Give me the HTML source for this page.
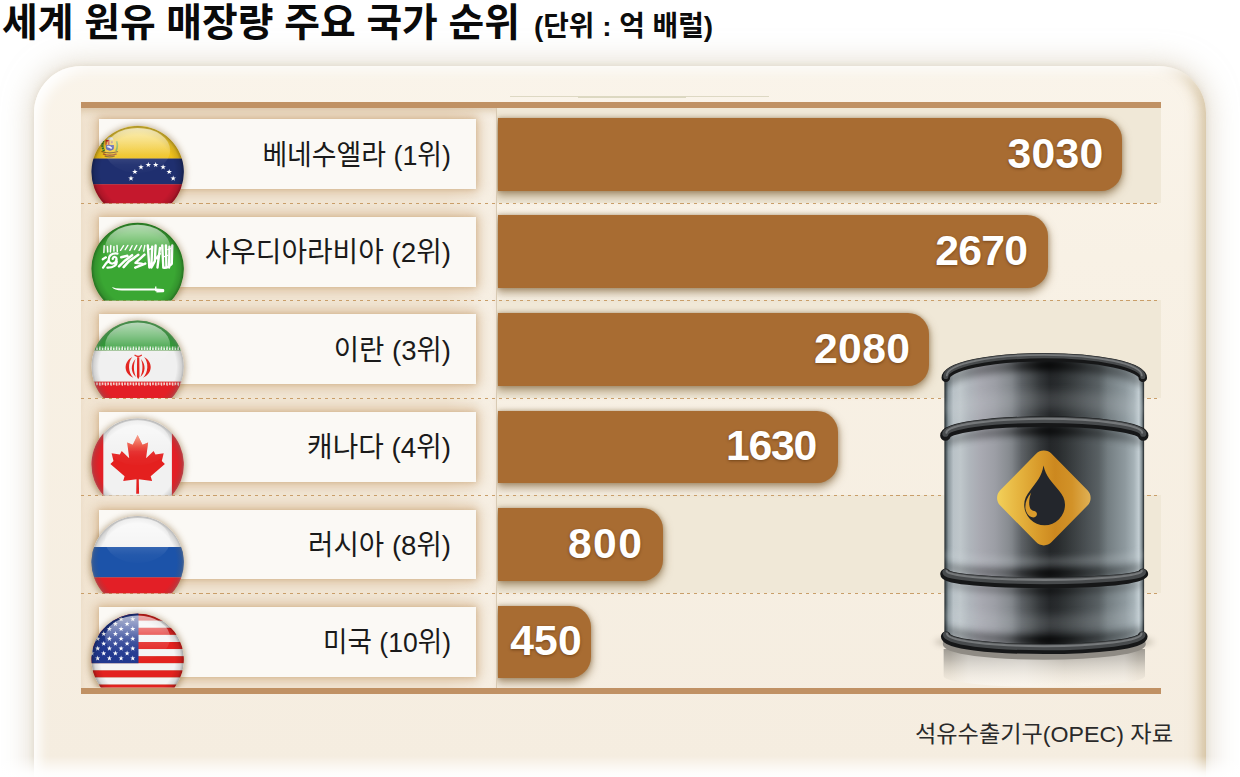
<!DOCTYPE html>
<html lang="ko">
<head>
<meta charset="utf-8">
<title>세계 원유 매장량 주요 국가 순위</title>
<style>
*{box-sizing:border-box;margin:0;padding:0}
html,body{width:1240px;height:777px;overflow:hidden;background:#fff}
body{position:relative;font-family:"Liberation Sans",sans-serif}
.abs{position:absolute}
.sr{position:absolute;color:transparent;font-size:10px;line-height:10px;white-space:nowrap;overflow:hidden;width:1px;height:1px}
#panel{left:34px;top:66px;width:1172px;height:760px;border-radius:47px 47px 0 0;background:linear-gradient(to bottom,#faf4ea 0,#f8f1e5 25%,#f5ede0 92%);
 box-shadow:0 0 30px 2px rgba(205,192,168,.62), 0 0 6px rgba(200,185,160,.35),
 inset 9px 8px 12px -3px rgba(255,255,255,.95), inset -11px 0 13px -5px rgba(190,165,118,.62)}
#fade{left:0;top:756px;width:1240px;height:21px;background:linear-gradient(to bottom,rgba(255,255,255,0),rgba(255,255,255,.5) 45%,rgba(255,255,255,.88) 80%,rgba(255,255,255,.97))}
.rowbg{left:81.3px;width:1079.7px;background:#f0e8d7}
#leftcol{left:81.3px;top:106px;width:415.9px;height:583px;box-shadow:inset 0 9px 7px -4px rgba(186,148,98,.38);background:linear-gradient(to right,#f1e4d1 0,#f3e8d8 6%,#f3e8d8 88%,#f7f0e5 97%,#f6eee2 100%);border-right:1px solid #d8cab3;overflow:hidden}
.wb{left:99.3px;width:376.3px;height:69.4px;background:#fbf9f5;box-shadow:0 0 12px 3px rgba(198,156,106,.58),0 0 4px rgba(190,150,100,.38)}
.bar{left:497.7px;height:72.7px;background:#a86c32;border-radius:0 21px 21px 0;box-shadow:0 4px 8px 1px rgba(112,78,32,.52),0 0 4px rgba(120,85,40,.4);
 color:#fff;font-weight:bold;font-size:42.7px;line-height:72.7px;text-align:right;letter-spacing:.2px;text-shadow:0 1px 3px rgba(70,35,5,.55)}
.bar span{position:absolute;right:18.6px;top:-1.5px}
.hl{left:81.3px;width:1079.7px;height:6.3px;background:#c09164}
.dash{left:81.3px;width:1079.7px;height:1.3px;background:repeating-linear-gradient(to right,#c99e69 0,#c99e69 3.1px,transparent 3.1px,transparent 6.97px)}
#barsclip{left:497.2px;top:106px;width:700px;height:583px;overflow:hidden}
</style>
</head>
<body>
<div class="abs" id="panel"></div>

<!-- alternating row backgrounds -->
<div class="abs rowbg" style="top:106px;height:97.4px"></div>
<div class="abs rowbg" style="top:300.4px;height:97.7px"></div>
<div class="abs rowbg" style="top:495.4px;height:97.8px"></div>

<div class="abs" style="left:509.8px;top:95.7px;width:259.2px;height:.9px;background:#ddd8c3"></div>
<div class="abs" style="left:577.6px;top:95.6px;width:108.4px;height:2px;background:#dcd8c1"></div>

<!-- bars -->
<div class="abs" id="barsclip">
<div class="abs bar" style="left:.4px;top:12.1px;width:624.4px"><span style="right:18.6px;letter-spacing:0.2px">3030</span></div>
<div class="abs bar" style="left:.4px;top:109.4px;width:550.4px"><span style="right:20.6px;letter-spacing:-0.7px">2670</span></div>
<div class="abs bar" style="left:.4px;top:207.1px;width:431.5px"><span style="right:18.6px;letter-spacing:0.4px">2080</span></div>
<div class="abs bar" style="left:.4px;top:304.6px;width:340.3px"><span style="right:22.0px;letter-spacing:-1.3px">1630</span></div>
<div class="abs bar" style="left:.4px;top:402px;width:165.5px"><span style="right:19.9px;letter-spacing:1.3px">800</span></div>
<div class="abs bar" style="left:.4px;top:499.7px;width:93.9px"><span style="right:9.5px;letter-spacing:0.2px">450</span></div>
</div>

<!-- left label column -->
<div class="abs" id="leftcol">
<div class="abs wb" style="left:18px;top:13.4px"></div>
<div class="abs wb" style="left:18px;top:111.2px"></div>
<div class="abs wb" style="left:18px;top:208.4px"></div>
<div class="abs wb" style="left:18px;top:306.2px"></div>
<div class="abs wb" style="left:18px;top:403.8px"></div>
<div class="abs wb" style="left:18px;top:501.2px"></div>
</div>

<!-- separators -->
<div class="abs dash" style="top:202.8px"></div>
<div class="abs dash" style="top:299.8px"></div>
<div class="abs dash" style="top:397.5px"></div>
<div class="abs dash" style="top:494.8px"></div>
<div class="abs dash" style="top:592.6px"></div>
<div class="abs hl" style="top:102.2px"></div>
<div class="abs hl" style="top:687.5px"></div>

<svg class="abs" style="left:0;top:0" width="1240" height="777" viewBox="0 0 1240 777">
<defs>
<radialGradient id="rim" cx=".5" cy=".5" r=".5"><stop offset="0" stop-color="#000" stop-opacity="0"/><stop offset=".8" stop-color="#000" stop-opacity="0"/><stop offset=".93" stop-color="#000" stop-opacity=".12"/><stop offset="1" stop-color="#000" stop-opacity=".34"/></radialGradient>
<radialGradient id="rimw" cx=".5" cy=".5" r=".5"><stop offset="0" stop-color="#555" stop-opacity="0"/><stop offset=".84" stop-color="#555" stop-opacity="0"/><stop offset=".95" stop-color="#666" stop-opacity=".22"/><stop offset="1" stop-color="#777" stop-opacity=".5"/></radialGradient>
<linearGradient id="gloss" x1="0" y1="0" x2="0" y2="1"><stop offset="0" stop-color="#fff" stop-opacity=".64"/><stop offset=".3" stop-color="#fff" stop-opacity=".4"/><stop offset=".6" stop-color="#fff" stop-opacity=".13"/><stop offset=".82" stop-color="#fff" stop-opacity=".035"/><stop offset="1" stop-color="#fff" stop-opacity=".01"/></linearGradient>
<linearGradient id="vy" x1="0" y1="0" x2="0" y2="1"><stop offset="0" stop-color="#f5d440"/><stop offset="1" stop-color="#efbf17"/></linearGradient>
<linearGradient id="lfg" gradientUnits="userSpaceOnUse" x1="0" y1="435" x2="0" y2="452"><stop offset="0" stop-color="#f68a5c" stop-opacity=".75"/><stop offset=".6" stop-color="#f2683a" stop-opacity=".4"/><stop offset="1" stop-color="#f2683a" stop-opacity="0"/></linearGradient>
<filter id="fsh" x="-30%" y="-30%" width="160%" height="160%"><feGaussianBlur stdDeviation="3.2"/></filter>
<clipPath id="fc0"><path d="M103.6 203.3A46.2 46.2 0 1 1 171.7 203.3Z"/></clipPath>
<clipPath id="fr0"><rect x="60" y="105.9" width="160" height="97.4"/></clipPath>
<clipPath id="fc1"><path d="M103.8 300.4A46.2 46.2 0 1 1 171.5 300.4Z"/></clipPath>
<clipPath id="fr1"><rect x="60" y="202.8" width="160" height="97.6"/></clipPath>
<clipPath id="fc2"><path d="M103.7 398.1A46.2 46.2 0 1 1 171.6 398.1Z"/></clipPath>
<clipPath id="fr2"><rect x="60" y="300.6" width="160" height="97.5"/></clipPath>
<clipPath id="fc3"><path d="M103.4 495.4A46.2 46.2 0 1 1 171.9 495.4Z"/></clipPath>
<clipPath id="fr3"><rect x="60" y="398.2" width="160" height="97.2"/></clipPath>
<clipPath id="fc4"><path d="M103.5 593.2A46.2 46.2 0 1 1 171.8 593.2Z"/></clipPath>
<clipPath id="fr4"><rect x="60" y="495.9" width="160" height="97.3"/></clipPath>
<clipPath id="fc5"><path d="M100.7 687.5A46.2 46.2 0 1 1 174.6 687.5Z"/></clipPath>
<clipPath id="fr5"><rect x="60" y="593.6" width="160" height="93.9"/></clipPath>
</defs>
<g clip-path="url(#fr0)"><circle cx="137.65" cy="173.1" r="47.7" fill="#8a6a3a" opacity=".55" filter="url(#fsh)"/></g>
<g clip-path="url(#fc0)">
<rect x="90.5" y="124.9" width="94.4" height="33.7" fill="url(#vy)"/>
<rect x="90.5" y="158.6" width="94.4" height="25.7" fill="#1f2f6f"/>
<rect x="90.5" y="184.3" width="94.4" height="20" fill="#c5182d"/>
<path fill="#fff" d="M131 175.5L131.7 177.5L133.8 177.5L132.1 178.8L132.7 180.7L131 179.6L129.3 180.7L129.9 178.8L128.2 177.5L130.3 177.5ZM134.9 168.9L135.6 170.9L137.7 170.9L136 172.2L136.6 174.1L134.9 173L133.2 174.1L133.8 172.2L132.1 170.9L134.2 170.9ZM141 164.2L141.7 166.2L143.8 166.2L142.1 167.5L142.7 169.4L141 168.3L139.3 169.4L139.9 167.5L138.2 166.2L140.3 166.2ZM148.3 161.9L149 163.9L151.1 163.9L149.4 165.2L150 167.1L148.3 166L146.6 167.1L147.2 165.2L145.5 163.9L147.6 163.9ZM155.7 161.9L156.4 163.9L158.5 163.9L156.8 165.2L157.4 167.1L155.7 166L154 167.1L154.6 165.2L152.9 163.9L155 163.9ZM163.1 164.2L163.8 166.2L165.9 166.2L164.2 167.5L164.8 169.4L163.1 168.3L161.4 169.4L162 167.5L160.3 166.2L162.4 166.2ZM169.2 168.9L169.9 170.9L172 170.9L170.3 172.2L170.9 174.1L169.2 173L167.5 174.1L168.1 172.2L166.4 170.9L168.5 170.9ZM173.2 175.5L173.9 177.5L176 177.5L174.3 178.8L174.9 180.7L173.2 179.6L171.5 180.7L172.1 178.8L170.4 177.5L172.5 177.5Z"/>
<g><rect x="105.600" y="139.900" width="4.100" height="5" fill="#d3261f"/><rect x="109.700" y="139.900" width="4.400" height="5" fill="#f0cf45"/><rect x="111" y="141.200" width="1.800" height="2" fill="#b37a6a"/><rect x="106.600" y="141.500" width="1.200" height="3.400" fill="#f0cf45"/><path d="M105.900 144.900h8v3.200q0 2.400-4 2.600q-4-.200-4-2.600z" fill="#3d45a0"/><path d="M107.200 146.100q2.500-.900 5 1.700l-.900 1.100q-2.300-1.500-4.100-1.700z" fill="#e9edf8"/><path d="M103.300 140.800q-2.100 5 .8 10.200" stroke="#2f7d32" stroke-width="2.300" fill="none" stroke-dasharray="1.600 .7"/><path d="M116.600 141.200q1.700 5-.6 9.800" stroke="#5a9e45" stroke-width="1.700" fill="none" opacity=".85"/><path d="M107 139.700q1-3.100 3.200-2.600q2.200-.900 3.300 2.600z" fill="#dfe6ea"/><path d="M101.500 151.500q8.300 2.600 16.500 0" stroke="#7b5a22" stroke-width="1.300" fill="none"/><path d="M103 153.800q6.800 2.800 13.600 0" stroke="#a8552c" stroke-width="1.400" fill="none"/><path d="M104.600 156q5 1.700 10.200 0" stroke="#8a6a20" stroke-width="1.100" fill="none"/></g>
<circle cx="137.65" cy="172.1" r="46.2" fill="url(#rim)"/>
<ellipse cx="137.65" cy="150.4" rx="32.500" ry="22.500" fill="url(#gloss)"/>
</g>
<g clip-path="url(#fr1)"><circle cx="137.65" cy="270" r="47.7" fill="#8a6a3a" opacity=".55" filter="url(#fsh)"/></g>
<g clip-path="url(#fc1)">
<rect x="90.5" y="221.8" width="94.4" height="79.6" fill="#3aa733"/>
<g transform="translate(98 238) scale(.07722)" fill="none" stroke="#fff" stroke-linecap="round" stroke-linejoin="round"><path stroke-width="31" d="M645 98L665 382M702 112L690 382M746 98L736 300L692 382M802 130L770 382M832 98L846 382M880 98L886 382M926 112L920 382M962 98L955 335M846 382Q900 395 955 335M800 205L762 262"/><path stroke-width="18" d="M332 100L292 160M387 96L352 150M442 100L412 160M502 96L472 150M562 100L532 160M606 96L592 170M660 150L700 130M905 150L940 135M860 240L900 225"/><path stroke-width="32" d="M602 216L486 322L566 332M522 216L402 300L332 378M442 222L352 290L272 368M612 332L482 384M300 250L380 230"/><path stroke-width="19" d="M80 100L76 188M122 110L126 180M166 96L161 180M206 110L206 170M246 96L250 175"/><path stroke-width="29" d="M252 202C182 190 130 230 140 290C150 350 230 340 240 282C245 240 200 232 190 270M140 290C100 330 82 358 66 384M102 250L62 276M242 300C250 350 200 386 122 384"/></g><path d="M111.900 287.100q3.500 1.600 10 1.500h33.200v-2.200h1.300v2.200l7 .5q.900.200.900 1.600t-.900 1.600l-7 .2v-1.200h-1.300v-.700h-33.200q-8-.300-10-3.500z" fill="#fff"/>
<circle cx="137.65" cy="269" r="46.2" fill="url(#rim)"/>
<ellipse cx="137.65" cy="247.3" rx="32.500" ry="22.500" fill="url(#gloss)"/>
</g>
<g clip-path="url(#fr2)"><circle cx="137.65" cy="367.8" r="47.7" fill="#8a6a3a" opacity=".55" filter="url(#fsh)"/></g>
<g clip-path="url(#fc2)">
<rect x="90.5" y="319.6" width="94.4" height="31" fill="#2f9b35"/>
<rect x="90.5" y="350.6" width="94.4" height="31.1" fill="#f0f0f0"/>
<rect x="90.5" y="381.7" width="94.4" height="17.4" fill="#e31f26"/>
<path d="M90.5 348.3H184.9" stroke="#e9f3e6" stroke-width="3.400" stroke-dasharray="1.700 1.100" opacity=".95"/>
<path d="M90.5 347H184.9" stroke="#2f9b35" stroke-width="1" stroke-dasharray="3.300 2.300" opacity=".9"/>
<path d="M90.5 384.100H184.9" stroke="#f4e6e0" stroke-width="3.400" stroke-dasharray="1.700 1.100" opacity=".9"/>
<path d="M90.5 385.400H184.9" stroke="#e31f26" stroke-width="1" stroke-dasharray="3.300 2.300" opacity=".9"/>
<path fill="#e3241f" d="M132.3 357.1C123.3 362 123.3 373.6 133.3 377.7C127.9 372.6 127.7 362.4 132.3 357.1ZM135.5 358.9C130.3 364.4 130.7 372.6 136.1 376.9C133.4 371.6 133.2 364.4 135.5 358.9ZM144.1 357.1C153.1 362 153.1 373.6 143.1 377.7C148.5 372.6 148.7 362.4 144.1 357.1ZM140.9 358.9C146.1 364.4 145.7 372.6 140.3 376.9C143 371.6 143.2 364.4 140.9 358.9ZM137.1 357.2L139.3 357.2L139.5 376.8L138.2 379.3L136.9 376.8Z"/><path d="M135 355.300q3.200 2.300 6.400 0" stroke="#e3241f" stroke-width="1.400" fill="none" stroke-linecap="round"/>
<circle cx="137.65" cy="366.8" r="46.2" fill="url(#rimw)"/>
<ellipse cx="137.65" cy="345.1" rx="32.500" ry="22.500" fill="url(#gloss)"/>
</g>
<g clip-path="url(#fr3)"><circle cx="137.65" cy="465.4" r="47.7" fill="#8a6a3a" opacity=".55" filter="url(#fsh)"/></g>
<g clip-path="url(#fc3)">
<rect x="90.5" y="417.2" width="94.4" height="79.2" fill="#f1f1f1"/>
<rect x="90.5" y="417.2" width="12.8" height="79.2" fill="#e31f26"/>
<rect x="171.9" y="417.2" width="13" height="79.2" fill="#e31f26"/>
<path fill="#e4201f" d="M137.6 435.1L142.5 444.8L148.1 442.6L146.1 458.3L153.6 451.1L155.5 454.4L163.7 453.2L161.8 460.9L164.9 464.1L150.7 476.2L152.1 481L138.8 479.2L139.1 493.7L136.2 493.7L136.5 479.2L123.2 481L124.6 476.2L110.4 464.1L113.5 460.9L111.6 453.2L119.8 454.4L121.7 451.1L129.2 458.3L127.2 442.6L132.8 444.8L137.6 435.1Z"/><path fill="url(#lfg)" d="M137.6 435.1L142.5 444.8L148.1 442.6L147 451.1L128.3 451.1L127.2 442.6L132.8 444.8Z"/>
<circle cx="137.65" cy="464.4" r="46.2" fill="url(#rimw)"/>
<ellipse cx="137.65" cy="442.7" rx="32.500" ry="22.500" fill="url(#gloss)"/>
</g>
<g clip-path="url(#fr4)"><circle cx="137.65" cy="563.1" r="47.7" fill="#8a6a3a" opacity=".55" filter="url(#fsh)"/></g>
<g clip-path="url(#fc4)">
<rect x="90.5" y="514.9" width="94.4" height="32.1" fill="#f3f3f3"/>
<rect x="90.5" y="547" width="94.4" height="30.4" fill="#1c53a9"/>
<rect x="90.5" y="577.4" width="94.4" height="16.8" fill="#e31f26"/>
<circle cx="137.65" cy="562.1" r="46.2" fill="url(#rimw)"/>
<ellipse cx="137.65" cy="540.4" rx="32.500" ry="22.500" fill="url(#gloss)"/>
</g>
<g clip-path="url(#fr5)"><circle cx="137.65" cy="660.8" r="47.7" fill="#8a6a3a" opacity=".55" filter="url(#fsh)"/></g>
<g clip-path="url(#fc5)">
<rect x="90.5" y="613.6" width="94.4" height="7.1" fill="#e3221f"/>
<rect x="90.5" y="620.7" width="94.4" height="7.1" fill="#f4f4f4"/>
<rect x="90.5" y="627.8" width="94.4" height="7.1" fill="#e3221f"/>
<rect x="90.5" y="634.9" width="94.4" height="7.1" fill="#f4f4f4"/>
<rect x="90.5" y="642" width="94.4" height="7.1" fill="#e3221f"/>
<rect x="90.5" y="649.1" width="94.4" height="7.1" fill="#f4f4f4"/>
<rect x="90.5" y="656.2" width="94.4" height="7.1" fill="#e3221f"/>
<rect x="90.5" y="663.3" width="94.4" height="7.1" fill="#f4f4f4"/>
<rect x="90.5" y="670.4" width="94.4" height="7.1" fill="#e3221f"/>
<rect x="90.5" y="677.5" width="94.4" height="7.1" fill="#f4f4f4"/>
<rect x="90.5" y="684.6" width="94.4" height="7.1" fill="#e3221f"/>
<rect x="90.5" y="691.7" width="94.4" height="7.1" fill="#f4f4f4"/>
<rect x="90.5" y="698.8" width="94.4" height="7.1" fill="#e3221f"/>
<rect x="90.5" y="612.6" width="48" height="50.6" fill="#21388f"/>
<path fill="#fff" d="M86 616.4L86.6 618.2L88.6 618.3L87 619.4L87.6 621.3L86 620.2L84.4 621.3L85 619.4L83.4 618.3L85.4 618.2ZM97.7 616.4L98.3 618.2L100.3 618.3L98.7 619.4L99.3 621.3L97.7 620.2L96.1 621.3L96.7 619.4L95.1 618.3L97.1 618.2ZM109.4 616.4L110 618.2L112 618.3L110.4 619.4L111 621.3L109.4 620.2L107.8 621.3L108.4 619.4L106.8 618.3L108.8 618.2ZM121.1 616.4L121.7 618.2L123.7 618.3L122.1 619.4L122.7 621.3L121.1 620.2L119.5 621.3L120.1 619.4L118.5 618.3L120.5 618.2ZM132.8 616.4L133.4 618.2L135.4 618.3L133.8 619.4L134.4 621.3L132.8 620.2L131.2 621.3L131.8 619.4L130.2 618.3L132.2 618.2ZM92 621.2L92.6 623.1L94.6 623.2L93 624.3L93.6 626.2L92 625.1L90.4 626.2L91 624.3L89.4 623.2L91.4 623.1ZM103.7 621.2L104.3 623.1L106.3 623.2L104.7 624.3L105.3 626.2L103.7 625.1L102.1 626.2L102.7 624.3L101.1 623.2L103.1 623.1ZM115.4 621.2L116 623.1L118 623.2L116.4 624.3L117 626.2L115.4 625.1L113.8 626.2L114.4 624.3L112.8 623.2L114.8 623.1ZM127.1 621.2L127.7 623.1L129.7 623.2L128.1 624.3L128.7 626.2L127.1 625.1L125.5 626.2L126.1 624.3L124.5 623.2L126.5 623.1ZM86 626.1L86.6 628L88.6 628.1L87 629.2L87.6 631.1L86 630L84.4 631.1L85 629.2L83.4 628.1L85.4 628ZM97.7 626.1L98.3 628L100.3 628.1L98.7 629.2L99.3 631.1L97.7 630L96.1 631.1L96.7 629.2L95.1 628.1L97.1 628ZM109.4 626.1L110 628L112 628.1L110.4 629.2L111 631.1L109.4 630L107.8 631.1L108.4 629.2L106.8 628.1L108.8 628ZM121.1 626.1L121.7 628L123.7 628.1L122.1 629.2L122.7 631.1L121.1 630L119.5 631.1L120.1 629.2L118.5 628.1L120.5 628ZM132.8 626.1L133.4 628L135.4 628.1L133.8 629.2L134.4 631.1L132.8 630L131.2 631.1L131.8 629.2L130.2 628.1L132.2 628ZM92 631.1L92.6 632.9L94.6 633L93 634.1L93.6 636L92 634.9L90.4 636L91 634.1L89.4 633L91.4 632.9ZM103.7 631.1L104.3 632.9L106.3 633L104.7 634.1L105.3 636L103.7 634.9L102.1 636L102.7 634.1L101.1 633L103.1 632.9ZM115.4 631.1L116 632.9L118 633L116.4 634.1L117 636L115.4 634.9L113.8 636L114.4 634.1L112.8 633L114.8 632.9ZM127.1 631.1L127.7 632.9L129.7 633L128.1 634.1L128.7 636L127.1 634.9L125.5 636L126.1 634.1L124.5 633L126.5 632.9ZM86 636L86.6 637.8L88.6 637.9L87 639L87.6 640.9L86 639.8L84.4 640.9L85 639L83.4 637.9L85.4 637.8ZM97.7 636L98.3 637.8L100.3 637.9L98.7 639L99.3 640.9L97.7 639.8L96.1 640.9L96.7 639L95.1 637.9L97.1 637.8ZM109.4 636L110 637.8L112 637.9L110.4 639L111 640.9L109.4 639.8L107.8 640.9L108.4 639L106.8 637.9L108.8 637.8ZM121.1 636L121.7 637.8L123.7 637.9L122.1 639L122.7 640.9L121.1 639.8L119.5 640.9L120.1 639L118.5 637.9L120.5 637.8ZM132.8 636L133.4 637.8L135.4 637.9L133.8 639L134.4 640.9L132.8 639.8L131.2 640.9L131.8 639L130.2 637.9L132.2 637.8ZM92 640.9L92.6 642.7L94.6 642.8L93 643.9L93.6 645.8L92 644.7L90.4 645.8L91 643.9L89.4 642.8L91.4 642.7ZM103.7 640.9L104.3 642.7L106.3 642.8L104.7 643.9L105.3 645.8L103.7 644.7L102.1 645.8L102.7 643.9L101.1 642.8L103.1 642.7ZM115.4 640.9L116 642.7L118 642.8L116.4 643.9L117 645.8L115.4 644.7L113.8 645.8L114.4 643.9L112.8 642.8L114.8 642.7ZM127.1 640.9L127.7 642.7L129.7 642.8L128.1 643.9L128.7 645.8L127.1 644.7L125.5 645.8L126.1 643.9L124.5 642.8L126.5 642.7ZM86 645.8L86.6 647.6L88.6 647.7L87 648.8L87.6 650.7L86 649.6L84.4 650.7L85 648.8L83.4 647.7L85.4 647.6ZM97.7 645.8L98.3 647.6L100.3 647.7L98.7 648.8L99.3 650.7L97.7 649.6L96.1 650.7L96.7 648.8L95.1 647.7L97.1 647.6ZM109.4 645.8L110 647.6L112 647.7L110.4 648.8L111 650.7L109.4 649.6L107.8 650.7L108.4 648.8L106.8 647.7L108.8 647.6ZM121.1 645.8L121.7 647.6L123.7 647.7L122.1 648.8L122.7 650.7L121.1 649.6L119.5 650.7L120.1 648.8L118.5 647.7L120.5 647.6ZM132.8 645.8L133.4 647.6L135.4 647.7L133.8 648.8L134.4 650.7L132.8 649.6L131.2 650.7L131.8 648.8L130.2 647.7L132.2 647.6ZM92 650.6L92.6 652.5L94.6 652.6L93 653.7L93.6 655.6L92 654.5L90.4 655.6L91 653.7L89.4 652.6L91.4 652.5ZM103.7 650.6L104.3 652.5L106.3 652.6L104.7 653.7L105.3 655.6L103.7 654.5L102.1 655.6L102.7 653.7L101.1 652.6L103.1 652.5ZM115.4 650.6L116 652.5L118 652.6L116.4 653.7L117 655.6L115.4 654.5L113.8 655.6L114.4 653.7L112.8 652.6L114.8 652.5ZM127.1 650.6L127.7 652.5L129.7 652.6L128.1 653.7L128.7 655.6L127.1 654.5L125.5 655.6L126.1 653.7L124.5 652.6L126.5 652.5ZM86 655.6L86.6 657.4L88.6 657.5L87 658.6L87.6 660.5L86 659.4L84.4 660.5L85 658.6L83.4 657.5L85.4 657.4ZM97.7 655.6L98.3 657.4L100.3 657.5L98.7 658.6L99.3 660.5L97.7 659.4L96.1 660.5L96.7 658.6L95.1 657.5L97.1 657.4ZM109.4 655.6L110 657.4L112 657.5L110.4 658.6L111 660.5L109.4 659.4L107.8 660.5L108.4 658.6L106.8 657.5L108.8 657.4ZM121.1 655.6L121.7 657.4L123.7 657.5L122.1 658.6L122.7 660.5L121.1 659.4L119.5 660.5L120.1 658.6L118.5 657.5L120.5 657.4ZM132.8 655.6L133.4 657.4L135.4 657.5L133.8 658.6L134.4 660.5L132.8 659.4L131.2 660.5L131.8 658.6L130.2 657.5L132.2 657.4Z"/>
<circle cx="137.65" cy="659.8" r="46.2" fill="url(#rim)"/>
<ellipse cx="137.65" cy="638.1" rx="32.500" ry="22.500" fill="url(#gloss)"/>
</g>
</svg>
<svg class="abs" style="left:0;top:0" width="1240" height="777" viewBox="0 0 1240 777">
<defs>
<linearGradient id="bodyg" gradientUnits="userSpaceOnUse" x1="944.4" y1="0" x2="1144.1" y2="0"><stop offset="0" stop-color="#1e2427"/><stop offset="0.008" stop-color="#4d595e"/><stop offset="0.02" stop-color="#8a969c"/><stop offset="0.045" stop-color="#b9c2c7"/><stop offset="0.08" stop-color="#bfc7cb"/><stop offset="0.125" stop-color="#b0b6bc"/><stop offset="0.178" stop-color="#a9aab2"/><stop offset="0.253" stop-color="#9c9ea5"/><stop offset="0.318" stop-color="#898d92"/><stop offset="0.379" stop-color="#70757a"/><stop offset="0.429" stop-color="#575c5f"/><stop offset="0.479" stop-color="#3c4043"/><stop offset="0.529" stop-color="#2a2d30"/><stop offset="0.569" stop-color="#2f3335"/><stop offset="0.619" stop-color="#3c4143"/><stop offset="0.679" stop-color="#4d5356"/><stop offset="0.754" stop-color="#626a6e"/><stop offset="0.829" stop-color="#778185"/><stop offset="0.904" stop-color="#8e999e"/><stop offset="0.949" stop-color="#a6b2b7"/><stop offset="0.974" stop-color="#c3ced3"/><stop offset="0.989" stop-color="#7f8b90"/><stop offset="1" stop-color="#1c2124"/></linearGradient>
<linearGradient id="dia" x1="0" y1="0" x2="1" y2="0"><stop offset="0" stop-color="#f2d05a"/><stop offset=".22" stop-color="#e6b540"/><stop offset=".45" stop-color="#d89a2a"/><stop offset=".62" stop-color="#cc881f"/><stop offset=".8" stop-color="#d29228"/><stop offset="1" stop-color="#e0b155"/></linearGradient>
<linearGradient id="refl" x1="0" y1="0" x2="0" y2="1"><stop offset="0" stop-color="#9a968e" stop-opacity=".95"/><stop offset=".3" stop-color="#b3aea5" stop-opacity=".85"/><stop offset=".6" stop-color="#cdc7bc" stop-opacity=".6"/><stop offset=".85" stop-color="#e0d9cd" stop-opacity=".3"/><stop offset="1" stop-color="#e6dfd2" stop-opacity="0"/></linearGradient>
<linearGradient id="reflx" gradientUnits="userSpaceOnUse" x1="944.4" y1="0" x2="1144.1" y2="0"><stop offset="0" stop-color="#fff" stop-opacity="0"/><stop offset=".03" stop-color="#fff" stop-opacity=".0"/><stop offset=".12" stop-color="#fff" stop-opacity=".3"/><stop offset=".4" stop-color="#fff" stop-opacity=".36"/><stop offset=".6" stop-color="#fff" stop-opacity=".12"/><stop offset=".9" stop-color="#fff" stop-opacity=".24"/><stop offset=".97" stop-color="#fff" stop-opacity="0"/></linearGradient>
<linearGradient id="shg" gradientUnits="userSpaceOnUse" x1="944.4" y1="0" x2="1144.1" y2="0"><stop offset="0" stop-color="#000" stop-opacity=".3"/><stop offset=".3" stop-color="#000" stop-opacity=".45"/><stop offset=".5" stop-color="#000" stop-opacity="1"/><stop offset=".72" stop-color="#000" stop-opacity=".5"/><stop offset="1" stop-color="#000" stop-opacity=".3"/></linearGradient>
<linearGradient id="cpan" x1="0" y1="0" x2="1" y2="0"><stop offset="0" stop-color="#000" stop-opacity="0"/><stop offset=".1" stop-color="#000" stop-opacity=".14"/><stop offset=".9" stop-color="#000" stop-opacity=".14"/><stop offset="1" stop-color="#000" stop-opacity="0"/></linearGradient>
<filter id="b06" filterUnits="userSpaceOnUse" x="900" y="330" width="300" height="380"><feGaussianBlur stdDeviation=".6"/></filter>
<filter id="b3" filterUnits="userSpaceOnUse" x="900" y="330" width="300" height="380"><feGaussianBlur stdDeviation="3"/></filter>
<filter id="b5" filterUnits="userSpaceOnUse" x="900" y="330" width="300" height="380"><feGaussianBlur stdDeviation="4.500"/></filter>
<clipPath id="bodyclip"><path d="M944.4 377.8A99.85 20.6 0 0 1 1144.1 377.8L1144.1 636.5A99.85 12.5 0 0 1 944.4 636.5Z"/></clipPath>
<clipPath id="reflclip"><path d="M943.4 640A100.85 12.5 0 0 0 1145.1 640L1145.1 676A100.85 11 0 0 1 943.4 676Z"/></clipPath>
</defs>
<ellipse cx="1044.25" cy="642" rx="110" ry="7" fill="#5a5040" opacity=".35" filter="url(#b3)"/>
<g clip-path="url(#reflclip)"><rect x="943.4" y="649" width="201.7" height="36" fill="url(#refl)"/><rect x="943.4" y="650" width="201.7" height="40" fill="url(#reflx)"/></g>
<path d="M945.9 644.1A98.4 12.5 0 0 0 1142.7 644.1" stroke="#8f8b84" stroke-width="6.200" stroke-linecap="round" fill="none"/>
<path d="M944.4 377.8A99.85 20.6 0 0 1 1144.1 377.8L1144.1 636.5A99.85 12.5 0 0 1 944.4 636.5Z" fill="url(#bodyg)"/>
<g clip-path="url(#bodyclip)">
<rect x="1012" y="350" width="96" height="310" fill="url(#cpan)"/>
<path d="M945.8 385.8A98.5 20.6 0 0 1 1142.8 385.8" stroke="url(#shg)" stroke-width="11" fill="none" opacity=".8" filter="url(#b3)"/>
<path d="M945.5 444.5A98.8 13.9 0 0 1 1143 444.5" stroke="url(#shg)" stroke-width="9" fill="none" opacity=".75" filter="url(#b3)"/>
<path d="M945.5 565A98.8 8.7 0 0 0 1143 565" stroke="url(#shg)" stroke-width="9" fill="none" opacity=".75" filter="url(#b3)"/>
<path d="M945.5 582A98.8 8.7 0 0 0 1143 582" stroke="url(#shg)" stroke-width="7" fill="none" opacity=".55" filter="url(#b3)"/>
<path d="M945.6 627.5A98.6 12.5 0 0 0 1142.8 627.5" stroke="url(#shg)" stroke-width="10" fill="none" opacity=".8" filter="url(#b3)"/>
<path d="M945.5 553A98.8 8.7 0 0 0 1143 553" stroke="#cfd6da" stroke-width="8" fill="none" opacity=".22" filter="url(#b3)"/>
<path d="M945.6 610.5A98.6 12.5 0 0 0 1142.8 610.5" stroke="#cfd6da" stroke-width="16" fill="none" opacity=".16" filter="url(#b5)"/>
<path d="M945.5 413.5A98.8 13.9 0 0 1 1143 413.5" stroke="#d5dade" stroke-width="18" fill="none" opacity=".14" filter="url(#b5)"/>
</g>
<path d="M945.8 377.8A98.5 20.6 0 0 1 1142.8 377.8" stroke="#161718" stroke-width="8.5" stroke-linecap="round" fill="none"/><path d="M945.8 376.4A98.5 20.6 0 0 1 1142.8 376.4" stroke="#484b4d" stroke-width="5.1" stroke-linecap="round" fill="none"/><path d="M946.8 375.5A97.5 20.6 0 0 1 1141.8 375.5" stroke="#8a8d8f" stroke-width="1.7" stroke-linecap="round" fill="none" opacity=".7" filter="url(#b06)"/>
<path d="M945.4 435.5A98.9 13.9 0 0 1 1143.2 435.5" stroke="#161718" stroke-width="10.5" stroke-linecap="round" fill="none"/><path d="M945.4 433.7A98.9 13.9 0 0 1 1143.2 433.7" stroke="#484b4d" stroke-width="6.3" stroke-linecap="round" fill="none"/><path d="M946.4 432.7A97.9 13.9 0 0 1 1142.2 432.7" stroke="#8a8d8f" stroke-width="2.1" stroke-linecap="round" fill="none" opacity=".7" filter="url(#b06)"/>
<path d="M945.6 574A98.6 8.7 0 0 0 1142.8 574" stroke="#161718" stroke-width="10.8" stroke-linecap="round" fill="none"/><path d="M945.6 572.2A98.6 8.7 0 0 0 1142.8 572.2" stroke="#484b4d" stroke-width="6.5" stroke-linecap="round" fill="none"/><path d="M946.6 571.1A97.6 8.7 0 0 0 1141.8 571.1" stroke="#8a8d8f" stroke-width="2.2" stroke-linecap="round" fill="none" opacity=".7" filter="url(#b06)"/>
<path d="M946 636.5A98.2 12.5 0 0 0 1142.5 636.5" stroke="#161718" stroke-width="10.2" stroke-linecap="round" fill="none"/><path d="M946 634.8A98.2 12.5 0 0 0 1142.5 634.8" stroke="#484b4d" stroke-width="6.1" stroke-linecap="round" fill="none"/><path d="M947 633.7A97.2 12.5 0 0 0 1141.5 633.7" stroke="#8a8d8f" stroke-width="2" stroke-linecap="round" fill="none" opacity=".7" filter="url(#b06)"/>
<path d="M1036.1 453.7A10.8 10.8 0 0 1 1051.6 453.7L1087.5 490.3A10.8 10.8 0 0 1 1087.5 505.5L1051.6 542.1A10.8 10.8 0 0 1 1036.1 542.1L1000.2 505.5A10.8 10.8 0 0 1 1000.2 490.3Z" fill="url(#dia)"/>
<path d="M1043.500 465.600C1045.500 476 1052.500 483 1058.500 490C1062.800 495 1065 499.500 1065 504.800A20.400 20.400 0 0 1 1024.200 504.800C1024.200 499.500 1026.400 495 1030.500 490C1036 483 1042 476 1043.500 465.600Z" fill="#23262c"/>
<path d="M1031.200 492.600C1025.500 499 1023.800 507.500 1026.800 512.800C1028.800 516.600 1032.500 518.400 1035.200 517C1037.800 515.600 1037.400 511.600 1034.400 511C1031.800 510.500 1030.400 509.600 1029.600 506.500C1028.600 502.500 1029.400 497.500 1031.200 492.600Z" fill="#d99b2c"/>
</svg>

<!-- text (real text replacing vector outlines) -->
<svg class="abs" style="left:0;top:0" width="1240" height="777" viewBox="0 0 1240 777" aria-hidden="true" font-family="&quot;Liberation Sans&quot;, &quot;Noto Sans CJK KR&quot;, sans-serif">
<text x="2" y="36" font-size="39" font-weight="bold" fill="#0a0a0a" textLength="518" lengthAdjust="spacingAndGlyphs">세계 원유 매장량 주요 국가 순위</text>
<text x="534" y="36" font-size="28.5" font-weight="bold" fill="#0c0c0c" textLength="179" lengthAdjust="spacingAndGlyphs">(단위 : 억 배럴)</text>
<g font-size="28.5" fill="#1a1a1a" text-anchor="end">
<text x="451" y="164.8" textLength="188.6" lengthAdjust="spacingAndGlyphs">베네수엘라 (1위)</text>
<text x="451" y="262.3" textLength="246.3" lengthAdjust="spacingAndGlyphs">사우디아라비아 (2위)</text>
<text x="451" y="359.8" textLength="117.2" lengthAdjust="spacingAndGlyphs">이란 (3위)</text>
<text x="451" y="457.3" textLength="143.9" lengthAdjust="spacingAndGlyphs">캐나다 (4위)</text>
<text x="451" y="554.8" textLength="142.9" lengthAdjust="spacingAndGlyphs">러시아 (8위)</text>
<text x="451" y="652.3" textLength="127.9" lengthAdjust="spacingAndGlyphs">미국 (10위)</text>
</g>
<text x="915" y="742.1" font-size="22.5" fill="#2a2a2a" textLength="258" lengthAdjust="spacingAndGlyphs">석유수출기구(OPEC) 자료</text>
</svg>

<div class="abs" id="fade"></div>

<h1 class="sr" style="left:3px;top:3px">세계 원유 매장량 주요 국가 순위 (단위 : 억 배럴)</h1>
<ul class="sr" style="left:262px;top:140px;list-style:none">
<li>베네수엘라 (1위)</li><li>사우디아라비아 (2위)</li><li>이란 (3위)</li><li>캐나다 (4위)</li><li>러시아 (8위)</li><li>미국 (10위)</li>
</ul>
<p class="sr" style="left:915px;top:722px">석유수출기구(OPEC) 자료</p>
</body>
</html>
